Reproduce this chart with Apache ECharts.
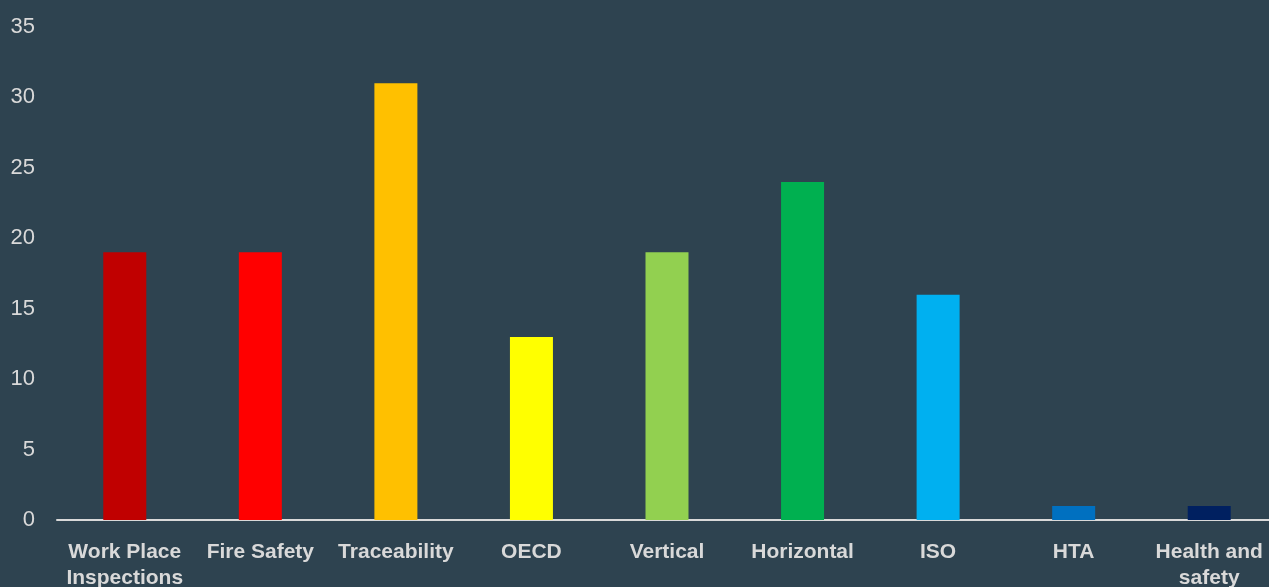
<!DOCTYPE html>
<html>
<head>
<meta charset="utf-8">
<script src="https://cdn.jsdelivr.net/npm/echarts@6/dist/echarts.min.js"></script>
<style>
  html, body { margin: 0; padding: 0; background: #2e4350; }
  #chart { width: 1269px; height: 587px; }
</style>
</head>
<body>
<div id="chart"></div>
<script>
const categories = ["Work Place\nInspections", "Fire Safety", "Traceability", "OECD", "Vertical", "Horizontal", "ISO", "HTA", "Health and\nsafety"];
const values = [19, 19, 31, 13, 19, 24, 16, 1, 1];
const barColors = ["#c00000", "#ff0000", "#ffc000", "#ffff00", "#92d050", "#00b050", "#00b0f0", "#0070c0", "#002060"];

const chart = echarts.init(document.getElementById("chart"));

const option = {
  backgroundColor: "#2e4350",
  animation: false,
  grid: { left: 57, right: -8, top: 27, bottom: 67, outerBoundsMode: "none", containLabel: false },
  xAxis: {
    type: "category",
    data: categories,
    axisLine: { lineStyle: { color: "#d9d9d9", width: 2 } },
    axisTick: { show: false },
    axisLabel: {
      color: "#d9d9d9",
      fontFamily: "Liberation Sans",
      fontWeight: "bold",
      fontSize: 21,
      lineHeight: 26,
      margin: 19,
      interval: 0
    }
  },
  yAxis: {
    type: "value",
    min: 0,
    max: 35,
    interval: 5,
    splitLine: { show: false },
    axisLine: { show: false },
    axisTick: { show: false },
    axisLabel: {
      color: "#d9d9d9",
      fontFamily: "Liberation Sans",
      fontSize: 22,
      margin: 22
    }
  },
  series: [{
    type: "bar",
    data: values.map((v, i) => ({ value: v, itemStyle: { color: barColors[i] } })),
    barWidth: 43
  }]
};

chart.setOption(option);
</script>
</body>
</html>
